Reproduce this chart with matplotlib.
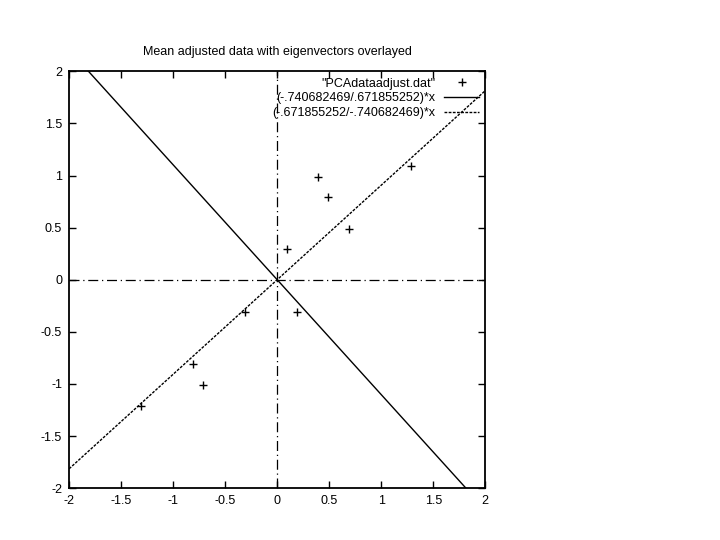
import numpy as np
import matplotlib
matplotlib.use("Agg")
import matplotlib.pyplot as plt

plt.rcParams['font.family'] = ['Liberation Sans', 'DejaVu Sans']

# mean adjusted data
xs = [0.69, -1.31, 0.39, 0.09, 1.29, 0.49, 0.19, -0.81, -0.31, -0.71]
ys = [0.49, -1.21, 0.99, 0.29, 1.09, 0.79, -0.31, -0.81, -0.31, -1.01]
# eigenvector slopes
slope1 = -.740682469 / .671855252
slope2 = -.671855252 / -.740682469
labels = ['"PCAdataadjust.dat"', '(-.740682469/.671855252)*x', '(-.671855252/-.740682469)*x']
ticks = [-2, -1.5, -1, -0.5, 0, 0.5, 1, 1.5, 2]
tick_labels = ["-2", "-1.5", "-1", "-0.5", "0", "0.5", "1", "1.5", "2"]

fig = plt.figure(figsize=(7.2, 5.4), dpi=100)
ax = fig.add_axes([0.096, 0.096, 0.578, 0.772])

ax.axhline(0, color="black", lw=0.9, ls="-.", dashes=(8, 3, 1, 3))
ax.axvline(0, color="black", lw=0.9, ls="-.", dashes=(8, 3, 1, 3))

ax.plot(xs, ys, "+", color="black", ms=6, mew=1.0, label=labels[0])
xl = np.linspace(-2, 2, 200)
ax.plot(xl, slope1 * xl, "-", color="black", lw=1.0, label=labels[1])
ax.plot(xl, slope2 * xl, "--", color="black", lw=1.0, dashes=(2, 1), label=labels[2])

ax.set_xlim(-2, 2); ax.set_ylim(-2, 2)
ax.set_xticks(ticks); ax.set_xticklabels(tick_labels)
ax.set_yticks(ticks); ax.set_yticklabels(tick_labels)
ax.tick_params(direction="in", top=True, right=True, length=5, width=1, labelsize=9, pad=5)
for s in ax.spines.values():
    s.set_linewidth(1.3)

ax.set_title("Mean adjusted data with eigenvectors overlayed", fontsize=9, pad=12)
leg = ax.legend(loc="upper right", frameon=False, fontsize=9, markerfirst=False,
                handlelength=2.8, borderpad=0.2, labelspacing=0.22, handletextpad=0.7,
                borderaxespad=0.3)
for t in leg.get_texts():
    t.set_ha("right")
leg._legend_box.align = "right"

fig.savefig("out.png", dpi=100)
